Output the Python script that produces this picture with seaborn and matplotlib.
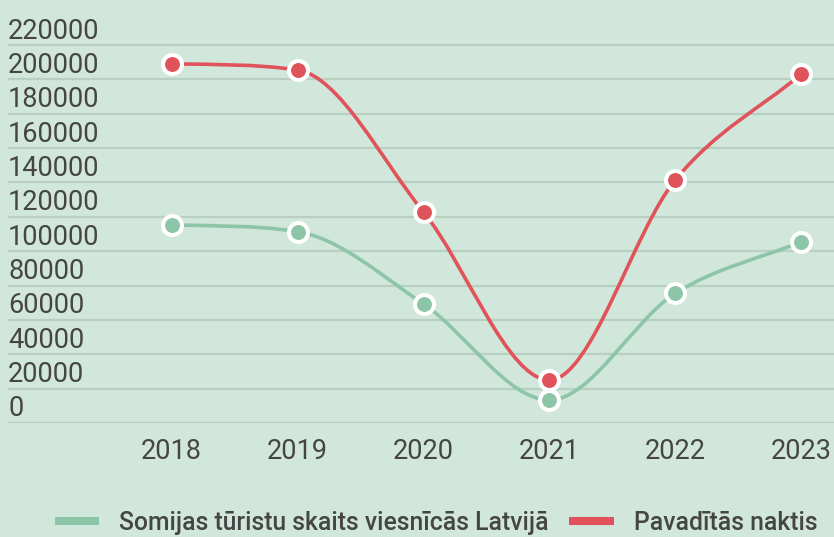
import numpy as np
import pandas as pd
import matplotlib
matplotlib.use("Agg")
import matplotlib.pyplot as plt
import matplotlib.transforms as mtransforms
from matplotlib.path import Path
from matplotlib.patches import PathPatch
from matplotlib.lines import Line2D
import seaborn as sns

# ── data ────────────────────────────────────────
years = [2018, 2019, 2020, 2021, 2022, 2023]
tourists = [115300, 111400, 69300, 13400, 75500, 105500]
nights = [209000, 205500, 122800, 25000, 141500, 203100]
series_names = ["Somijas tūristu skaits viesnīcās Latvijā", "Pavadītās naktis"]
y_ticks = list(range(0, 220001, 20000))

# ── style ───────────────────────────────────────
bg = "#d2e7db"
grid_c = "#b8cfc2"
text_c = "#454545"
green = "#8dc5a8"
red = "#e0535a"

sns.set_theme(style="white", rc={"figure.facecolor": bg, "axes.facecolor": bg})
plt.rcParams["font.family"] = ["Roboto", "DejaVu Sans"]

fig = plt.figure(figsize=(8.34, 5.37), dpi=100)
ax = fig.add_axes([8 / 834, 114 / 537, 826 / 834, 412.3 / 537])


def monotone_path(xs, ys):
    # monotone cubic (Fritsch-Carlson) as bezier segments
    xs = np.asarray(xs, float)
    ys = np.asarray(ys, float)
    n = len(xs)
    d = np.diff(ys) / np.diff(xs)
    m = np.zeros(n)
    m[0], m[-1] = d[0], d[-1]
    for i in range(1, n - 1):
        m[i] = 0 if d[i - 1] * d[i] <= 0 else (d[i - 1] + d[i]) / 2
    for i in range(n - 1):
        if d[i] == 0:
            m[i] = m[i + 1] = 0
            continue
        a, b = m[i] / d[i], m[i + 1] / d[i]
        s = a * a + b * b
        if s > 9:
            t = 3 / np.sqrt(s)
            m[i], m[i + 1] = t * a * d[i], t * b * d[i]
    verts = [(xs[0], ys[0])]
    codes = [Path.MOVETO]
    for i in range(n - 1):
        h = (xs[i + 1] - xs[i]) / 3
        verts += [(xs[i] + h, ys[i] + m[i] * h),
                  (xs[i + 1] - h, ys[i + 1] - m[i + 1] * h),
                  (xs[i + 1], ys[i + 1])]
        codes += [Path.CURVE4] * 3
    return Path(verts, codes)


for vals, col in [(tourists, green), (nights, red)]:
    ax.add_patch(PathPatch(monotone_path(years, vals), fill=False,
                           edgecolor=col, lw=2.6, zorder=3, capstyle="round"))
    sns.scatterplot(x=years, y=vals, ax=ax, color=col, s=187,
                    edgecolor="white", linewidth=2.9, zorder=4, legend=False)

ax.set_xlim(2016.70, 2023.26)
ax.set_ylim(0, 240000)
ax.set_xticks(years)
ax.set_xticklabels([str(y) for y in years])
ax.set_yticks(y_ticks)
ax.set_yticklabels([str(v) for v in y_ticks])
ax.grid(axis="y", color=grid_c, lw=1.6)
ax.grid(axis="x", visible=False)
for s in ax.spines.values():
    s.set_visible(False)
ax.tick_params(axis="both", length=0, labelsize=19.5, labelcolor=text_c)
ax.tick_params(axis="x", pad=10.5)
ax.tick_params(axis="y", pad=0)

offset = mtransforms.ScaledTranslation(0, 0.17, fig.dpi_scale_trans)
for lab in ax.get_yticklabels():
    lab.set_horizontalalignment("left")
    lab.set_transform(lab.get_transform() + offset)

handles = [Line2D([0], [0], color=green, lw=5.8, solid_capstyle="butt"),
           Line2D([0], [0], color=red, lw=5.8, solid_capstyle="butt")]
leg = fig.legend(handles, series_names, loc="center", ncol=2,
                 bbox_to_anchor=(436 / 834, 14 / 537), frameon=False,
                 handlelength=1.8, handletextpad=0.8, columnspacing=0.84,
                 prop={"family": ["Roboto", "DejaVu Sans"], "size": 17.8,
                       "weight": "medium"})
for t in leg.get_texts():
    t.set_color(text_c)

fig.savefig("out.png", dpi=100, facecolor=bg)
